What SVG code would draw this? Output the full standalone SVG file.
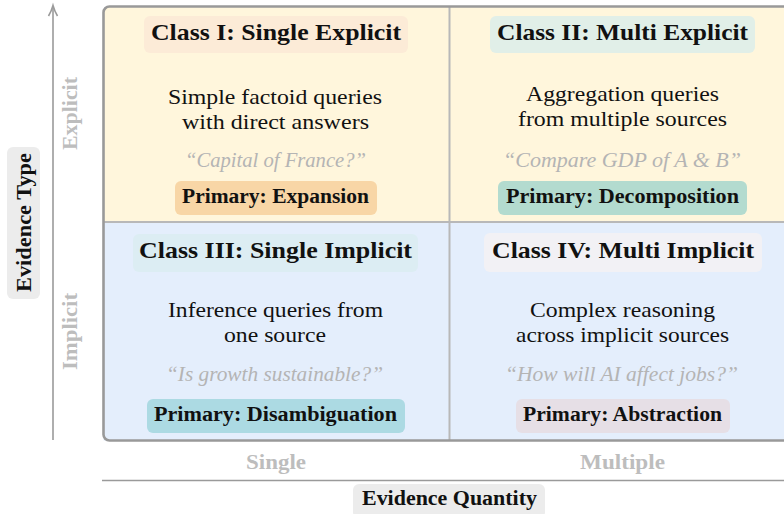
<svg xmlns="http://www.w3.org/2000/svg" width="784" height="514" viewBox="0 0 784 514">
<style>
.t{font-family:"Liberation Serif","DejaVu Serif",serif;text-anchor:middle}
.title{font-size:24px;font-weight:bold;fill:#111}
.body{font-size:21.5px;fill:#111}
.ex{font-size:20px;font-style:italic;fill:#b4b4b4}
.badge{font-size:20.5px;font-weight:bold;fill:#111}
.ax{font-size:20px;font-weight:bold;fill:#bdbdbd}
.axt{font-size:20px;font-weight:bold;fill:#111}
</style>
<rect width="784" height="514" fill="#fff"/>
<g id="axes">
<line x1="53" y1="440" x2="53" y2="7" stroke="#9a9a9a" stroke-width="1.6"/>
<path d="M48.5 16 Q51.5 11 53 5.5 Q54.5 11 57.5 16" fill="none" stroke="#9a9a9a" stroke-width="1.6"/>
<line x1="102" y1="480.5" x2="795" y2="480.5" stroke="#9a9a9a" stroke-width="1.6"/>
</g>
<g id="grid">
<rect x="103.5" y="6.5" width="700" height="434" rx="6" fill="#fff6dc"/>
<rect x="103.5" y="222" width="700" height="218.5" fill="#e4eefc"/>
<line x1="103.5" y1="222" x2="800" y2="222" stroke="#b8b8b8" stroke-width="2"/>
<line x1="449.5" y1="6.5" x2="449.5" y2="440" stroke="#b8b8b8" stroke-width="2"/>
<rect x="103.5" y="6.5" width="700" height="434" rx="6" fill="none" stroke="#999" stroke-width="2.6"/>
</g>
<g id="class1">
<rect x="144" y="16" width="264" height="37" rx="6" fill="#fcebd7"/>
<text class="t title" x="276" y="40" textLength="250" lengthAdjust="spacingAndGlyphs">Class I: Single Explicit</text>
<text class="t body" x="275" y="104" textLength="214" lengthAdjust="spacingAndGlyphs">Simple factoid queries</text>
<text class="t body" x="275.5" y="128.5" textLength="187" lengthAdjust="spacingAndGlyphs">with direct answers</text>
<text class="t ex" x="275.5" y="167" textLength="181" lengthAdjust="spacingAndGlyphs">“Capital of France?”</text>
<rect x="175" y="181" width="202" height="34" rx="6" fill="#f8d6a6"/>
<text class="t badge" x="275.5" y="203" textLength="187" lengthAdjust="spacingAndGlyphs">Primary: Expansion</text>
</g>
<g id="class2">
<rect x="490" y="16" width="265" height="37" rx="6" fill="#e1efe8"/>
<text class="t title" x="622.5" y="40" textLength="251" lengthAdjust="spacingAndGlyphs">Class II: Multi Explicit</text>
<text class="t body" x="622.5" y="100.5" textLength="193" lengthAdjust="spacingAndGlyphs">Aggregation queries</text>
<text class="t body" x="622.5" y="126" textLength="209" lengthAdjust="spacingAndGlyphs">from multiple sources</text>
<text class="t ex" x="622" y="167" textLength="238" lengthAdjust="spacingAndGlyphs">“Compare GDP of A &amp; B”</text>
<rect x="498" y="181" width="249" height="34" rx="6" fill="#b3dbcf"/>
<text class="t badge" x="622.5" y="203" textLength="233" lengthAdjust="spacingAndGlyphs">Primary: Decomposition</text>
</g>
<g id="class3">
<rect x="133" y="234" width="285" height="38" rx="6" fill="#dcedf3"/>
<text class="t title" x="275.5" y="258" textLength="273" lengthAdjust="spacingAndGlyphs">Class III: Single Implicit</text>
<text class="t body" x="275.5" y="317" textLength="215" lengthAdjust="spacingAndGlyphs">Inference queries from</text>
<text class="t body" x="275" y="342" textLength="102" lengthAdjust="spacingAndGlyphs">one source</text>
<text class="t ex" x="274.5" y="381" textLength="217" lengthAdjust="spacingAndGlyphs">“Is growth sustainable?”</text>
<rect x="147" y="399" width="258" height="34" rx="6" fill="#acdae3"/>
<text class="t badge" x="275.5" y="421" textLength="243" lengthAdjust="spacingAndGlyphs">Primary: Disambiguation</text>
</g>
<g id="class4">
<rect x="484" y="233" width="278" height="39" rx="6" fill="#f2f1f5"/>
<text class="t title" x="623" y="258" textLength="262" lengthAdjust="spacingAndGlyphs">Class IV: Multi Implicit</text>
<text class="t body" x="622.5" y="317" textLength="185" lengthAdjust="spacingAndGlyphs">Complex reasoning</text>
<text class="t body" x="622.5" y="342" textLength="213" lengthAdjust="spacingAndGlyphs">across implicit sources</text>
<text class="t ex" x="621.5" y="381" textLength="233" lengthAdjust="spacingAndGlyphs">“How will AI affect jobs?”</text>
<rect x="516" y="399" width="214" height="34" rx="6" fill="#e6dfe6"/>
<text class="t badge" x="622.5" y="421" textLength="199" lengthAdjust="spacingAndGlyphs">Primary: Abstraction</text>
</g>
<g id="labels">
<text class="t ax" transform="translate(77 113.5) rotate(-90)" textLength="73" lengthAdjust="spacingAndGlyphs">Explicit</text>
<text class="t ax" transform="translate(77 331.5) rotate(-90)" textLength="77" lengthAdjust="spacingAndGlyphs">Implicit</text>
<rect x="7" y="147" width="33" height="152" rx="6" fill="#ececec"/>
<text class="t axt" transform="translate(30.5 222.5) rotate(-90)" textLength="139" lengthAdjust="spacingAndGlyphs">Evidence Type</text>
<text class="t ax" x="276" y="469" textLength="60" lengthAdjust="spacingAndGlyphs">Single</text>
<text class="t ax" x="622.5" y="469" textLength="85" lengthAdjust="spacingAndGlyphs">Multiple</text>
<rect x="353" y="484" width="192" height="34" rx="6" fill="#ececec"/>
<text class="t axt" x="449.5" y="505" textLength="175" lengthAdjust="spacingAndGlyphs">Evidence Quantity</text>
</g>
</svg>
